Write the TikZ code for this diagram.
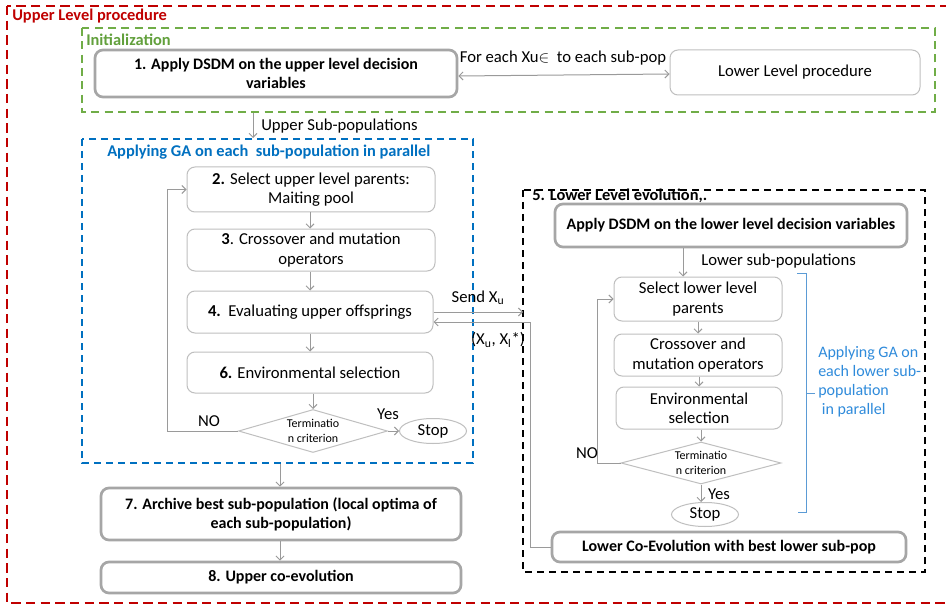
\documentclass[tikz,border=0pt]{standalone}
\usepackage{fontspec}
\setmainfont{Carlito}
\usetikzlibrary{shapes.geometric,arrows.meta,calc}
\definecolor{redc}{HTML}{C00000}
\definecolor{greenc}{HTML}{70AD47}
\definecolor{greent}{HTML}{62A03C}
\definecolor{bluec}{HTML}{0070C0}
\definecolor{bluet}{HTML}{2F8BDB}
\definecolor{bracketc}{HTML}{5B9BD5}
\definecolor{boxgray}{HTML}{BFBFBF}
\definecolor{boldgray}{HTML}{A6A6A6}
\definecolor{arrgray}{HTML}{9A9A9A}
\begin{document}
\begin{tikzpicture}[x=0.75pt,y=-0.75pt,
  sz/.style 2 args={minimum width=#1*0.75pt,minimum height=#2*0.75pt},
  pbox/.style={draw=boxgray,line width=0.75pt,rounded corners=6pt,align=center,inner sep=0pt,fill=white,font=\fontsize{12.5}{14.5}\selectfont},
  bbox/.style={draw=boldgray,line width=2pt,rounded corners=6pt,align=center,inner sep=0pt,fill=white,font=\fontsize{12}{14.5}\selectfont\bfseries},
  arr/.style={draw=arrgray,line width=0.75pt,-{Straight Barb[length=3pt,width=6pt]}},
  diam/.style={diamond,draw=boxgray,line width=0.75pt,inner sep=0pt},
  dtext/.style={align=center,inner sep=0pt,font=\fontsize{9}{11.5}\selectfont},
  stopnode/.style={ellipse,draw=boxgray,line width=0.75pt,inner sep=0pt,font=\fontsize{12.5}{14}\selectfont},
  lbl/.style={inner sep=0pt,font=\fontsize{12.5}{14}\selectfont},
  title/.style={inner sep=0pt,anchor=west,font=\fontsize{12.3}{14}\selectfont\bfseries},
  redbox/.style={draw=redc,line width=1.5pt,dash pattern=on 7pt off 4pt},
  greenbox/.style={draw=greenc,line width=1.5pt,dash pattern=on 6pt off 4pt},
  bluebox/.style={draw=bluec,line width=1.5pt,dash pattern=on 5.5pt off 3.5pt},
  blackbox/.style={draw=black,line width=1.5pt,dash pattern=on 5pt off 4pt}
]
\useasboundingbox (0,0) rectangle (946,606);
\fill[white] (0,0) rectangle (946,606);
\begin{scope}
\clip (0,0) rectangle (946,606);
\draw[redbox] (7,6) rectangle (952,603);
\end{scope}

% frames
\draw[greenbox] (82,28) rectangle (935,112);
\draw[bluebox] (82,139) rectangle (473,463);
\draw[blackbox] (523,190) rectangle (925,572);

% titles
\node[title,text=redc] (tUL) at (12,16) {Upper Level procedure};
\node[title,text=greent] (tIn) at (86,40) {Initialization};
\node[title,text=bluec] (tGA) at (107,152) {Applying GA on each\ \ sub-population in parallel};
\node[title,text=black] (tLL) at (532,196) {5. Lower Level evolution,.};

% initialization
\node[bbox,sz={362}{47}] (b1) at (276,73.5) {1. Apply DSDM on the upper level decision\\variables};
\node[pbox,sz={250}{45}] (llp) at (795,72.5) {Lower Level procedure};
\draw[arrgray,line width=0.75pt,{Straight Barb[length=3pt,width=6pt]}-{Straight Barb[length=3pt,width=6pt]}] (b1.east |- 0,76) -- (llp.west |- 0,74);
\node[lbl] (lfor) at (563,58) {For each Xu$\in$\ \ to each sub-pop};

% upper sub-populations arrow
\coordinate (gbot) at (253,113);
\coordinate (btop) at (253,138);
\draw[arr] (gbot) -- (btop);
\node[lbl,anchor=west] (lusp) at (261,126) {Upper Sub-populations};

% upper GA
\node[pbox,sz={248}{45}] (b2) at (311,189.5) {\textbf{2.} Select upper level parents:\\Maiting pool};
\node[pbox,sz={248}{42}] (b3) at (311,250) {\textbf{3}. Crossover and mutation\\operators};
\node[pbox,sz={246}{42}] (b4) at (310,312) {\textbf{4.}\ \ Evaluating upper offsprings};
\node[pbox,sz={246}{41}] (b6) at (310,372.5) {\textbf{6.} Environmental selection};
\node[diam,sz={149}{43}] (d1) at (313,431) {};
\node[dtext] (d1t) at (d1.center) {Terminatio\\n criterion};
\node[stopnode,sz={67}{25}] (s1) at (433,431) {Stop};

\draw[arr] (b2.south -| 310,0) -- (b3.north -| 310,0);
\draw[arr] (b3.south -| 310,0) -- (b4.north -| 310,0);
\draw[arr] (b4.south) -- (b6.north);
\draw[arr] (b6.south -| d1.north) -- (d1.north);
\draw[arr] (d1.east) -- (s1.west);
\draw[arr] (d1.west) -- (167,431) |- (b2.west);
\node[lbl] (yes1) at (388,414) {Yes};
\node[lbl] (no1) at (209,421) {NO};

% archive
\node[bbox,sz={360}{52}] (b7) at (281,514) {7. Archive best sub-population (local optima of\\each sub-population)};
\node[bbox,sz={360}{31}] (b8) at (281,577.5) {8. Upper co-evolution};
\coordinate (bbot) at (280,464);
\draw[arr] (bbot) -- (b7.north -| bbot);
\draw[arr] (b7.south -| bbot) -- (b8.north -| bbot);

% lower level
\node[bbox,sz={352}{43}] (L0) at (731,225.5) {Apply DSDM on the lower level decision variables};
\node[pbox,sz={168}{44}] (L1) at (698,299) {Select lower level\\parents};
\node[pbox,sz={168}{42}] (L2) at (698,355) {Crossover and\\mutation operators};
\node[pbox,sz={166}{42}] (L3) at (699,408) {Environmental\\selection};
\node[diam,sz={160}{42}] (d2) at (701,463) {};
\node[dtext] (d2t) at (d2.center) {Terminatio\\n criterion};
\node[stopnode,sz={67}{24}] (s2) at (705,514.5) {Stop};
\node[bbox,sz={354}{30}] (L4) at (729,547) {Lower Co-Evolution with best lower sub-pop};

\coordinate (lx) at (683,0);
\draw[arr] (L0.south -| lx) -- (L1.north -| lx);
\node[lbl,anchor=west] (llsp) at (701,261) {Lower sub-populations};
\draw[arr] (L1.south) -- (L2.north);
\draw[arr] (L2.south -| L3.north) -- (L3.north);
\draw[arr] (L3.south -| d2.north) -- (d2.north);
\draw[arr] (d2.south) -- (d2.south |- s2.north);
\draw[arr] (d2.west) -- (597,463) |- (L1.west);
\node[lbl] (no2) at (587,453) {NO};
\node[lbl] (yes2) at (719,494) {Yes};

% bracket and label
\draw[bracketc,line width=0.75pt] (797,273) -- (806,273) -- (806,512) -- (798,512);
\draw[bracketc,line width=0.75pt] (806,393) -- (815,393);
\node[inner sep=0pt,anchor=north west,align=left,text=bluet,font=\fontsize{12}{14.25}\selectfont] (gal) at (818,346) {Applying GA on\\each lower sub-\\population\\\ in parallel};

% exchange between levels
\coordinate (sendend) at (523,312);
\draw[arr] (b4.east) -- (sendend);
\node[lbl] (lsend) at (478,298) {Send X\textsubscript{u}};
\coordinate (retin) at ($(b4.east)+(0,10)$);
\draw[arr] (L4.west) -- (530,547) |- (retin);
\node[lbl] (lret) at (498,340) {(X\textsubscript{u}, X\textsubscript{l}*)};
\end{tikzpicture}
\end{document}
